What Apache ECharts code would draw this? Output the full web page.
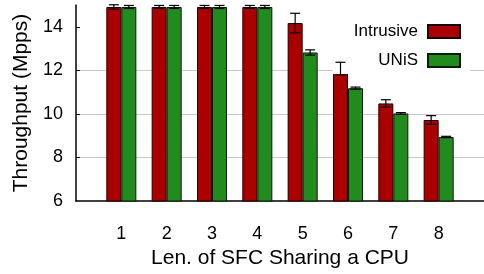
<!DOCTYPE html>
<html>
<head>
<meta charset="utf-8">
<script src="https://cdn.jsdelivr.net/npm/echarts@6/dist/echarts.min.js"></script>
<style>
  html, body { margin: 0; padding: 0; background: #fff; }
  #chart { width: 484px; height: 274px; }
</style>
</head>
<body>
<div id="chart"></div>
<script>
// SFC length categories
var lengths = [1, 2, 3, 4, 5, 6, 7, 8];
var intrusive = [14.91, 14.91, 14.91, 14.91, 14.17, 12.08, 10.48, 9.72];
var intrusiveErr = [0.1, 0.07, 0.07, 0.07, 0.45, 0.29, 0.17, 0.2];
var unis = [14.91, 14.91, 14.91, 14.91, 12.82, 11.18, 10.02, 8.94];
var unisErr = [0.07, 0.07, 0.07, 0.07, 0.12, 0.05, 0.04, 0.03];
var yTicks = [6, 8, 10, 12, 14];

var FONT = 'Liberation Sans';

function pairs(vals) {
    return lengths.map(function (x, i) { return [x, vals[i]]; });
}
function errData(vals, errs) {
    return lengths.map(function (x, i) { return [x, vals[i] - errs[i], vals[i] + errs[i]]; });
}
function errRender(shift) {
    return function (params, api) {
        var lo = api.coord([api.value(0), api.value(1)]);
        var hi = api.coord([api.value(0), api.value(2)]);
        var x = lo[0] + shift;
        var cap = 5;
        var style = { stroke: '#000', lineWidth: 1.2 };
        return {
            type: 'group',
            children: [
                { type: 'line', shape: { x1: x, y1: lo[1], x2: x, y2: hi[1] }, style: style },
                { type: 'line', shape: { x1: x - cap, y1: lo[1], x2: x + cap, y2: lo[1] }, style: style },
                { type: 'line', shape: { x1: x - cap, y1: hi[1], x2: x + cap, y2: hi[1] }, style: style }
            ]
        };
    };
}

var chart = echarts.init(document.getElementById('chart'));
chart.setOption({
    animation: false,
    textStyle: { fontFamily: FONT },
    grid: { left: 76, right: 0, top: 5, bottom: 73 },
    legend: {
        orient: 'vertical',
        right: 14,
        top: 15,
        align: 'right',
        padding: [8, 9, 5, 21],
        backgroundColor: '#fff',
        itemWidth: 32,
        itemHeight: 13,
        itemGap: 12,
        icon: 'rect',
        textStyle: { fontFamily: FONT, fontSize: 17, color: '#000', padding: [0, 5, 0, 0] },
        data: ['Intrusive', 'UNiS']
    },
    xAxis: {
        type: 'value',
        min: 0,
        max: 9,
        interval: 1,
        name: 'Len. of SFC Sharing a CPU',
        nameLocation: 'middle',
        nameGap: 46,
        nameTextStyle: { fontFamily: FONT, fontSize: 21, color: '#000' },
        axisLine: { lineStyle: { color: '#000', width: 1.5 } },
        axisTick: { show: false },
        splitLine: { show: false },
        axisLabel: {
            margin: 24,
            fontFamily: FONT, fontSize: 18, color: '#000',
            customValues: lengths
        }
    },
    yAxis: {
        type: 'value',
        min: 6,
        max: 15,
        interval: 2,
        name: 'Throughput (Mpps)',
        nameLocation: 'middle',
        nameGap: 36,
        nameTextStyle: { fontFamily: FONT, fontSize: 21, color: '#000' },
        axisLine: { show: true, lineStyle: { color: '#000', width: 1.5 } },
        axisTick: { show: true, inside: true, length: 4, lineStyle: { color: '#000' }, customValues: yTicks.slice(1) },
        axisLabel: { margin: 13, fontFamily: FONT, fontSize: 18, color: '#000', customValues: yTicks },
        splitLine: { show: true, showMaxLine: false, lineStyle: { color: '#c8c8c8', width: 1 } }
    },
    series: [
        {
            name: 'Intrusive',
            type: 'bar',
            data: pairs(intrusive),
            barWidth: 15,
            barGap: '0%',
            itemStyle: { color: '#aa0000', borderColor: '#1a0000', borderWidth: 1 }
        },
        {
            name: 'UNiS',
            type: 'bar',
            data: pairs(unis),
            barWidth: 15,
            barGap: '0%',
            itemStyle: { color: '#228b1e', borderColor: '#0a1a08', borderWidth: 1 }
        },
        {
            type: 'custom',
            renderItem: errRender(-7.5),
            data: errData(intrusive, intrusiveErr),
            z: 5
        },
        {
            type: 'custom',
            renderItem: errRender(7.5),
            data: errData(unis, unisErr),
            z: 5
        }
    ]
});
</script>
</body>
</html>
